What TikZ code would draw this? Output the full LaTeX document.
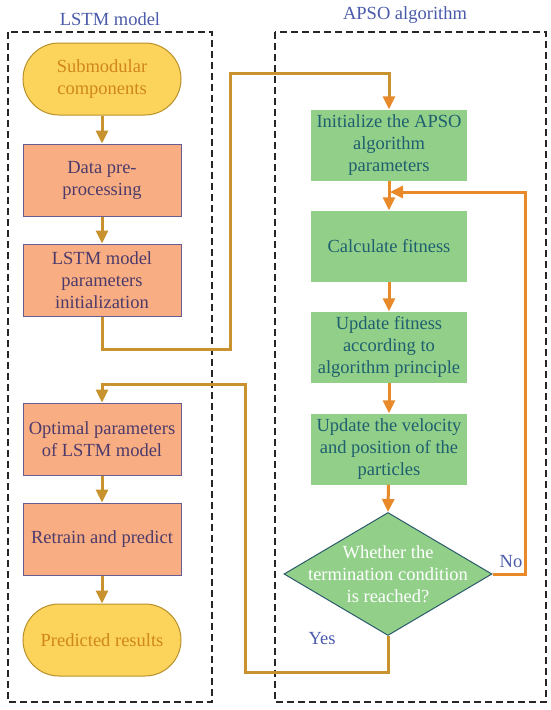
\documentclass[tikz,border=0pt]{standalone}
\usepackage{fontspec}
\setmainfont{Liberation Serif}
\usetikzlibrary{arrows.meta,shapes.geometric}
\definecolor{stfill}{HTML}{FCD45C}
\definecolor{stdraw}{HTML}{B8902A}
\definecolor{sttext}{HTML}{D0861C}
\definecolor{ofill}{HTML}{F8AE82}
\definecolor{odraw}{HTML}{6B5B95}
\definecolor{otext}{HTML}{4D3A6B}
\definecolor{gfill}{HTML}{92D08A}
\definecolor{gtext}{HTML}{1F5F6E}
\definecolor{gdraw}{HTML}{2A5A6A}
\definecolor{gold}{HTML}{C8922E}
\definecolor{orng}{HTML}{E8892A}
\definecolor{ttl}{HTML}{4A5AAA}
\tikzset{
  base/.style={font=\fontsize{18.5}{22}\selectfont, align=center, inner sep=2pt},
  stad/.style={base, draw=stdraw, fill=stfill, text=sttext, line width=1pt,
    minimum width=158pt, minimum height=72pt, rounded corners=36pt},
  obox/.style={base, draw=odraw, fill=ofill, text=otext, line width=1pt,
    minimum width=158pt, minimum height=72pt},
  gbox/.style={base, fill=gfill, text=gtext, minimum width=156pt, minimum height=71pt},
  dia/.style={diamond, draw=gdraw, fill=gfill, line width=1pt, minimum width=208pt,
    minimum height=123pt, inner sep=0pt},
  frame/.style={draw=black!85, dash pattern=on 7pt off 4pt, line width=1.2pt},
  larrow/.style={draw=gold, line width=3pt, -{Triangle[length=13pt,width=12pt]}},
  rarrow/.style={draw=orng, line width=3pt, -{Triangle[length=13pt,width=12pt]}},
  ttlstyle/.style={font=\fontsize{18.5}{22}\selectfont, text=ttl},
  lbl/.style={font=\fontsize{18.5}{22}\selectfont, text=ttl}
}
\begin{document}
\begin{tikzpicture}[x=1pt,y=-1pt]
\useasboundingbox (0,0) rectangle (550,710);
% frames
\draw[frame] (8,32) rectangle (212,702);
\draw[frame] (275,32) rectangle (546,702);
\node[ttlstyle] (t1) at (110,19) {LSTM model};
\node[ttlstyle] (t2) at (405,15) {APSO algorithm};
% left column
\node[stad] (sub) at (102,79) {Submodular\\components};
\node[obox] (pre) at (102,180) {Data pre-\\processing};
\node[obox] (init) at (102,280) {LSTM model\\parameters\\initialization};
\node[obox] (opt) at (102,439) {Optimal parameters\\of LSTM model};
\node[obox] (ret) at (102,539) {Retrain and predict};
\node[stad] (res) at (102,640) {Predicted results};
% right column
\node[gbox] (ainit) at (389,145) {Initialize the APSO\\algorithm\\parameters};
\node[gbox] (calc) at (389,246) {Calculate fitness};
\node[gbox] (upd) at (389,347) {Update fitness\\according to\\algorithm principle};
\node[gbox] (vel) at (389,449) {Update the velocity\\and position of the\\particles};
\node[dia] (dec) at (388,574) {};
\node[base, text=white] (dect) at (388,574) {Whether the\\termination condition\\is reached?};
\node[lbl] (no) at (511,562) {No};
\node[lbl] (yes) at (322,639) {Yes};
% coordinates
\coordinate (c1) at (102,349);
\coordinate (c2) at (230,349);
\coordinate (c3) at (230,73);
\coordinate (c4) at (389,73);
\coordinate (n1) at (525,574);
\coordinate (n2) at (525,192);
\coordinate (n3) at (390,192);
\coordinate (y1) at (388,672);
\coordinate (y2) at (245,672);
\coordinate (y3) at (245,384);
\coordinate (y4) at (102,384);
% connectors left
\draw[larrow] (sub) -- (pre);
\draw[larrow] (pre) -- (init);
\draw[larrow] (opt) -- (ret);
\draw[larrow] (ret) -- (res);
\draw[draw=gold, line width=3pt, -{Triangle[length=13pt,width=12pt,color=orng]}]
  (init.south) -- (c1) -- (c2) -- (c3) -- (c4) -- (ainit.north);
\draw[larrow] (dec.south) -- (y1) -- (y2) -- (y3) -- (y4) -- (opt.north);
% connectors right
\draw[rarrow] (ainit) -- (calc);
\draw[rarrow] (calc) -- (upd);
\draw[rarrow] (upd) -- (vel);
\draw[rarrow] (vel) -- (dec.north);
\draw[rarrow] (dec.east) -- (n1) -- (n2) -- (n3);
\end{tikzpicture}
\end{document}
